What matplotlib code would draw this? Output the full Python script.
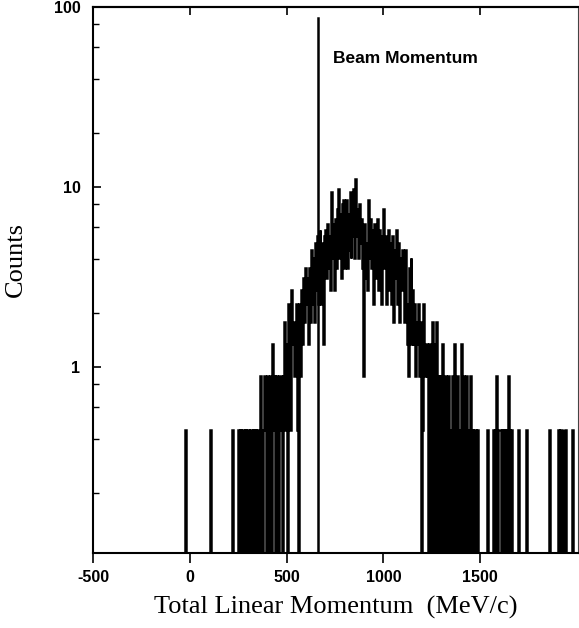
"""
Total linear momentum spectrum (log counts) with the beam momentum marked.
"""

import matplotlib

matplotlib.use("Agg")
import matplotlib.pyplot as plt
import numpy as np
from matplotlib.ticker import FixedLocator, LogLocator, NullFormatter

# histogram: 5 MeV/c bins starting at -100 MeV/c, one row per 100 MeV/c
bin_start = -100
bin_width = 5
counts = [
    0, 0, 0, 0, 0, 0, 0, 0, 0, 0, 0, 0, 0, 0, 0, 1, 0, 0, 0, 0,                 # -100
    0, 0, 0, 0, 0, 0, 0, 0, 0, 0, 0, 0, 0, 0, 0, 0, 0, 0, 0, 0,                 # 0
    0, 1, 0, 0, 0, 0, 0, 0, 0, 0, 0, 0, 0, 0, 0, 0, 0, 0, 0, 0,                 # 100
    0, 0, 0, 0, 1, 0, 0, 0, 0, 0, 1, 0, 1, 0, 1, 1, 0, 1, 0, 1,                 # 200
    1, 0, 1, 1, 0, 1, 0, 1, 0, 1, 1, 0, 1, 2, 1, 0, 1, 2, 1, 0,                 # 300
    2, 0, 1, 2, 0, 3, 1, 2, 0, 2, 1, 0, 2, 2, 1, 0, 2, 4, 1, 3,                 # 400
    0, 5, 2, 4, 1, 6, 3, 4, 2, 3, 5, 1, 0, 5, 2, 6, 3, 7, 4, 8,                 # 500
    5, 7, 3, 8, 4, 10, 5, 9, 4, 11, 6, 12, 5, 10, 13, 5, 11, 7, 3, 12,          # 600
    13, 7, 14, 8, 12, 6, 21, 9, 14, 6, 15, 8, 17, 22, 9, 16, 7, 18, 19, 8,      # 700
    11, 19, 8, 16, 10, 21, 9, 20, 12, 22, 9, 25, 12, 17, 9, 18, 11, 15, 8, 2,   # 800
    14, 7, 11, 6, 19, 9, 15, 8, 13, 5, 14, 7, 12, 15, 6, 13, 8, 11, 5, 12,      # 900
    17, 8, 12, 5, 10, 13, 6, 11, 5, 12, 4, 10, 7, 13, 5, 11, 4, 9, 6, 10,       # 1000
    9, 4, 10, 5, 3, 2, 8, 4, 9, 3, 6, 3, 5, 2, 4, 3, 5, 2, 4, 0,                # 1100
    1, 5, 2, 3, 3, 2, 0, 3, 1, 0, 4, 2, 0, 3, 4, 0, 2, 0, 2, 1,                 # 1200
    0, 3, 1, 0, 2, 0, 1, 2, 0, 1, 0, 2, 0, 3, 1, 0, 2, 0, 1, 0,                 # 1300
    3, 0, 2, 1, 0, 2, 0, 1, 0, 2, 1, 0, 1, 0, 1, 1, 0, 1, 0, 0,                 # 1400
    0, 0, 0, 0, 0, 0, 0, 1, 0, 0, 0, 0, 0, 1, 0, 1, 2, 0, 1, 1,                 # 1500
    1, 0, 1, 1, 0, 1, 0, 1, 0, 2, 1, 0, 1, 0, 0, 0, 0, 0, 0, 1,                 # 1600
    0, 0, 0, 0, 0, 0, 0, 1, 0, 0, 0, 0, 0, 0, 0, 0, 0, 0, 0, 0,                 # 1700
    0, 0, 0, 0, 0, 0, 0, 0, 0, 0, 0, 1, 0, 0, 0, 0, 0, 0, 0, 0,                 # 1800
    1, 0, 1, 1, 0, 1, 0, 0, 1, 0, 0, 0, 0, 0, 0, 1, 0, 0, 0, 0,                 # 1900
]
count_scale = 0.445  # plotted counts are normalised

beam_momentum = 660
beam_height = 87

x_ticks = [-500, 0, 500, 1000, 1500]
y_ticks = [1, 10, 100]
y_tick_labels = ["1", "10", "100"]

counts = np.array(counts, dtype=float)
edges = bin_start + bin_width * np.arange(len(counts) + 1)
y_min, y_max = 0.0925, 100
heights = np.where(counts > 0, counts * count_scale, y_min / 10)

fig = plt.figure(figsize=(5.79, 6.28), dpi=100)
fig.patch.set_facecolor("white")
ax = fig.add_axes([0.1606, 0.1194, 0.8377, 0.8695])

ax.stairs(heights, edges, baseline=None, color="black", linewidth=1.8)
ax.plot([beam_momentum, beam_momentum], [y_min / 10, beam_height],
        color="black", linewidth=1.8)
ax.text(740, 52, "Beam Momentum", fontsize=12.5, fontweight="bold",
        family="Liberation Sans", ha="left", va="center")

ax.set_yscale("log")
ax.set_xlim(-500, 2005)
ax.set_ylim(y_min, y_max)

tick_font = {"family": "Liberation Sans", "size": 11.5, "weight": "bold"}
ax.xaxis.set_major_locator(FixedLocator(x_ticks))
ax.set_xticklabels([str(v) for v in x_ticks], fontdict=tick_font)
ax.yaxis.set_major_locator(FixedLocator(y_ticks))
ax.set_yticklabels(y_tick_labels, fontdict=tick_font)
ax.yaxis.set_minor_locator(LogLocator(base=10, subs=[2, 4, 6, 8]))
ax.yaxis.set_minor_formatter(NullFormatter())

ax.tick_params(axis="x", direction="out", length=7, width=1.2, pad=5)
ax.tick_params(axis="y", which="major", direction="in", length=6, width=1.2, pad=9)
ax.tick_params(axis="y", which="minor", direction="in", length=4, width=1.0)

# top spine carries inward ticks without labels
top = ax.secondary_xaxis("top")
top.xaxis.set_major_locator(FixedLocator(x_ticks))
top.tick_params(direction="in", length=6, width=1.2, labeltop=False)
top.spines["top"].set_linewidth(1.5)

for side in ["left", "bottom", "top"]:
    ax.spines[side].set_linewidth(1.5)
ax.spines["right"].set_linewidth(0.8)
ax.spines["right"].set_color("#444444")

ax.set_xlabel("Total Linear Momentum  (MeV/c)", family="Liberation Serif",
              fontsize=19, labelpad=8)
ax.set_ylabel("Counts", family="Liberation Serif", fontsize=19)
ax.yaxis.set_label_coords(-0.136, 0.537)

fig.savefig("out.png", dpi=100)
plt.close(fig)
